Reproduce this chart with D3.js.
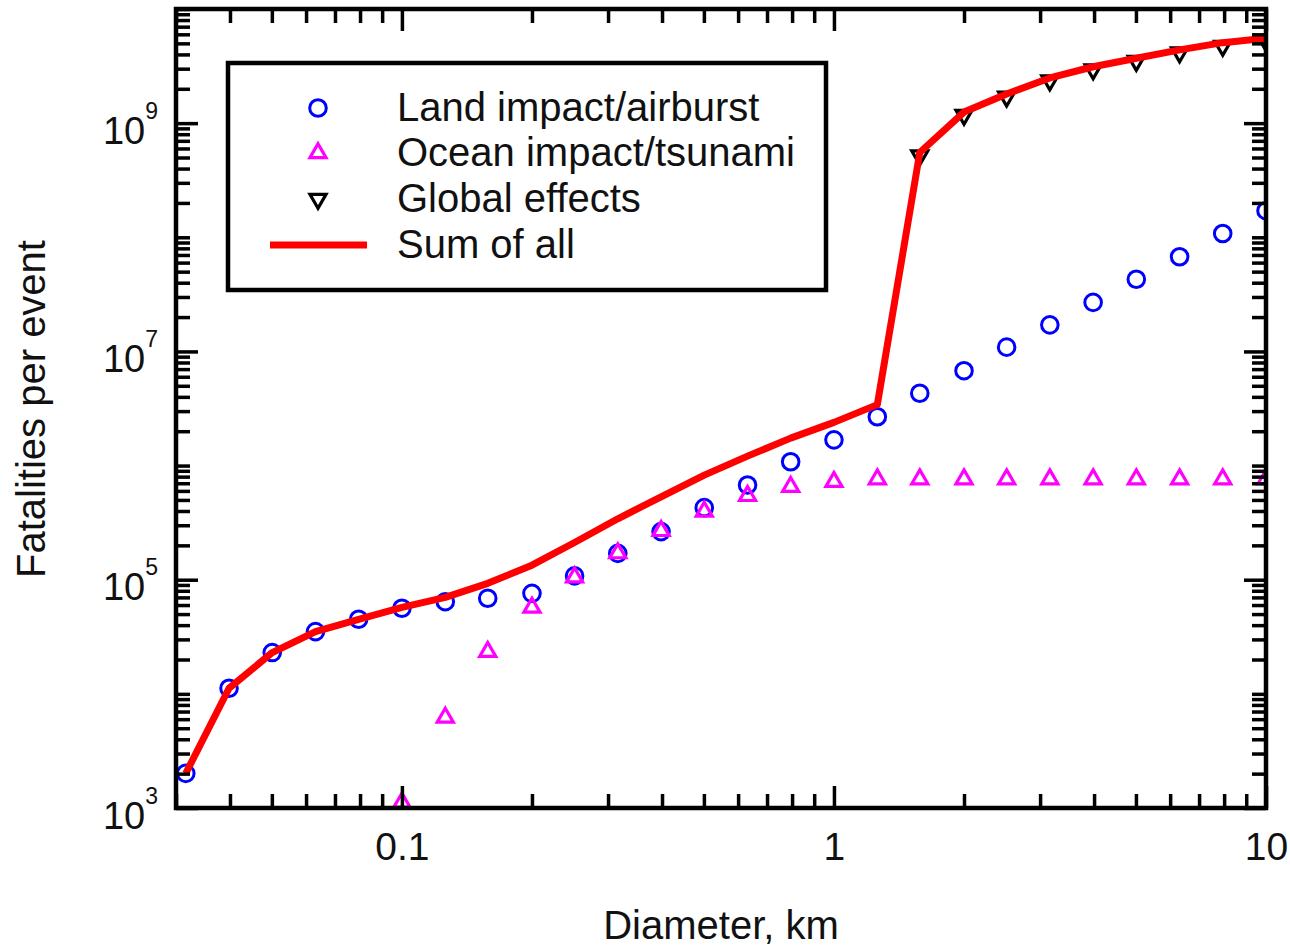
<!DOCTYPE html>
<html>
<head>
<meta charset="utf-8">
<script src="https://cdn.jsdelivr.net/npm/d3@7"></script>
<style>
  html, body { margin: 0; padding: 0; background: #fff; }
  svg { display: block; }
  text { font-family: "Liberation Sans", Arial, sans-serif; fill: #111; }
</style>
</head>
<body>
<svg id="chart" width="1290" height="947"></svg>
<script>
// Impactor diameter (km)
const diameters = [0.0316, 0.0398, 0.0501, 0.0631, 0.0794, 0.1, 0.126, 0.158, 0.2, 0.251,
                   0.316, 0.398, 0.501, 0.631, 0.794, 1, 1.26, 1.58, 2, 2.51,
                   3.16, 3.98, 5.01, 6.31, 7.94, 10];

// Fatalities per event, by effect
const landFatalities = [2.01e3, 1.12e4, 2.30e4, 3.51e4, 4.50e4, 5.62e4, 6.42e4, 6.88e4, 7.60e4, 1.08e5,
                        1.70e5, 2.64e5, 4.28e5, 6.76e5, 1.08e6, 1.68e6, 2.68e6, 4.30e6, 6.78e6, 1.09e7,
                        1.71e7, 2.69e7, 4.29e7, 6.76e7, 1.08e8, 1.71e8];
const oceanFatalities = [null, null, null, null, null, 1.12e3, 6.2e3, 2.34e4, 5.71e4, 1.05e5,
                         1.71e5, 2.68e5, 3.96e5, 5.43e5, 6.52e5, 7.21e5, 7.6e5, 7.6e5, 7.6e5, 7.6e5,
                         7.6e5, 7.6e5, 7.6e5, 7.6e5, 7.6e5, 7.6e5];
const globalFatalities = [null, null, null, null, null, null, null, null, null, null,
                          null, null, null, null, null, null, null, 5.2e8, 1.18e9, 1.70e9,
                          2.36e9, 2.95e9, 3.50e9, 4.15e9, 4.75e9, 5.2e9];
const sumFatalities = [2.01e3, 1.12e4, 2.30e4, 3.51e4, 4.50e4, 5.73e4, 7.0e4, 9.3e4, 1.34e5, 2.12e5,
                       3.42e5, 5.33e5, 8.25e5, 1.21e6, 1.74e6, 2.39e6, 3.42e6, 5.53e8, 1.25e9, 1.80e9,
                       2.49e9, 3.12e9, 3.70e9, 4.38e9, 5.07e9, 5.54e9];

// Axis ticks and labels
const xMajorTicks = [0.1, 1, 10];
const xTickLabels = ["0.1", "1", "10"];
const yMajorTicks = [1e3, 1e5, 1e7, 1e9];
const yTickExponents = ["3", "5", "7", "9"];

const legendEntries = ["Land impact/airburst", "Ocean impact/tsunami", "Global effects", "Sum of all"];

const svg = d3.select("#chart");
const plotLeft = 176, plotRight = 1266, plotTop = 9, plotBottom = 808;

const x = d3.scaleLog().domain([0.03, 10]).range([plotLeft, plotRight]);
const y = d3.scaleLog().domain([1e3, 1e10]).range([plotBottom, plotTop]);

const isMajorX = v => xMajorTicks.some(m => Math.abs(Math.log10(m) - Math.log10(v)) < 1e-6);
const isMajorY = v => yMajorTicks.some(m => Math.abs(Math.log10(m) - Math.log10(v)) < 1e-6);
const xMinor = x.ticks().filter(v => !isMajorX(v));
const yMinor = y.ticks().filter(v => !isMajorY(v));

svg.append("clipPath").attr("id", "plotClip")
  .append("rect").attr("x", plotLeft).attr("y", plotTop)
  .attr("width", plotRight - plotLeft).attr("height", plotBottom - plotTop);

const plot = svg.append("g").attr("clip-path", "url(#plotClip)");

const circleSym = d3.symbol().type(d3.symbolCircle).size(Math.PI * 8.3 * 8.3);
const triSym = d3.symbol().type(d3.symbolTriangle).size(112);

const rows = diameters.map((d, i) => ({
  d, land: landFatalities[i], ocean: oceanFatalities[i], glob: globalFatalities[i], sum: sumFatalities[i]
}));

// Land impact / airburst: open blue circles
plot.append("g").selectAll("path").data(rows.filter(r => r.land != null)).join("path")
  .attr("d", circleSym)
  .attr("transform", r => `translate(${x(r.d)},${y(r.land)})`)
  .attr("fill", "none").attr("stroke", "#0000ff").attr("stroke-width", 3);

// Ocean impact / tsunami: open magenta triangles
plot.append("g").selectAll("path").data(rows.filter(r => r.ocean != null)).join("path")
  .attr("d", triSym)
  .attr("transform", r => `translate(${x(r.d)},${y(r.ocean)})`)
  .attr("fill", "none").attr("stroke", "#ff00ff").attr("stroke-width", 3.2);

// Global effects: open black down-triangles
plot.append("g").selectAll("path").data(rows.filter(r => r.glob != null)).join("path")
  .attr("d", triSym)
  .attr("transform", r => `translate(${x(r.d)},${y(r.glob)}) rotate(180)`)
  .attr("fill", "none").attr("stroke", "#000").attr("stroke-width", 3.2);

// Sum of all effects
const line = d3.line().x(r => x(r.d)).y(r => y(r.sum));
svg.append("path").datum(rows)
  .attr("d", line)
  .attr("fill", "none").attr("stroke", "#ff0000").attr("stroke-width", 7)
  .attr("stroke-linejoin", "round");

// Axes: inward ticks on all four sides
function styleAxis(g) {
  g.select(".domain").remove();
  g.selectAll(".tick line").attr("stroke", "#000").attr("stroke-width", 3.5);
}
const minorLen = 14, majorLen = 22;

svg.append("g").attr("transform", `translate(0,${plotBottom})`)
  .call(d3.axisBottom(x).tickValues(xMinor).tickSize(-minorLen).tickFormat(""))
  .call(styleAxis);
svg.append("g").attr("transform", `translate(0,${plotTop})`)
  .call(d3.axisTop(x).tickValues(xMinor).tickSize(-minorLen).tickFormat(""))
  .call(styleAxis);
svg.append("g").attr("transform", `translate(0,${plotTop})`)
  .call(d3.axisTop(x).tickValues(xMajorTicks).tickSize(-majorLen).tickFormat(""))
  .call(styleAxis);
const xAxisMajor = svg.append("g").attr("transform", `translate(0,${plotBottom})`)
  .call(d3.axisBottom(x).tickValues(xMajorTicks).tickSize(-majorLen)
        .tickFormat((d, i) => xTickLabels[i]))
  .call(styleAxis);
xAxisMajor.selectAll(".tick text")
  .attr("y", 52).attr("dy", null)
  .attr("font-size", 39).attr("font-family", "Liberation Sans, Arial, sans-serif").attr("fill", "#111");

svg.append("g").attr("transform", `translate(${plotLeft},0)`)
  .call(d3.axisLeft(y).tickValues(yMinor).tickSize(-minorLen).tickFormat(""))
  .call(styleAxis);
svg.append("g").attr("transform", `translate(${plotRight},0)`)
  .call(d3.axisRight(y).tickValues(yMinor).tickSize(-minorLen).tickFormat(""))
  .call(styleAxis);
svg.append("g").attr("transform", `translate(${plotRight},0)`)
  .call(d3.axisRight(y).tickValues(yMajorTicks).tickSize(-majorLen).tickFormat(""))
  .call(styleAxis);
const yAxisMajor = svg.append("g").attr("transform", `translate(${plotLeft},0)`)
  .call(d3.axisLeft(y).tickValues(yMajorTicks).tickSize(-majorLen).tickFormat(""))
  .call(styleAxis);
yAxisMajor.selectAll(".tick text").each(function (d, i) {
  const t = d3.select(this);
  t.text(null).attr("x", -18).attr("y", 20).attr("dy", null)
    .attr("text-anchor", "end").attr("font-size", 38)
    .attr("font-family", "Liberation Sans, Arial, sans-serif").attr("fill", "#111");
  t.append("tspan").text("10");
  t.append("tspan").attr("dy", -25).attr("font-size", 23).text(yTickExponents[i]);
});

// Plot frame
svg.append("rect")
  .attr("x", plotLeft).attr("y", plotTop)
  .attr("width", plotRight - plotLeft).attr("height", plotBottom - plotTop)
  .attr("fill", "none").attr("stroke", "#000").attr("stroke-width", 4.5);

// Axis titles
svg.append("text").attr("x", (plotLeft + plotRight) / 2).attr("y", 939)
  .attr("text-anchor", "middle").attr("font-size", 40).text("Diameter, km");
svg.append("text").attr("transform", "translate(45,409) rotate(-90)")
  .attr("text-anchor", "middle").attr("font-size", 40).text("Fatalities per event");

// Legend
const legend = svg.append("g");
legend.append("rect").attr("x", 228).attr("y", 63).attr("width", 598).attr("height", 227)
  .attr("fill", "#fff").attr("stroke", "#000").attr("stroke-width", 4.5);
const rowY = [108, 153, 199, 245];
legend.append("path").attr("d", circleSym).attr("transform", `translate(318,${rowY[0]})`)
  .attr("fill", "none").attr("stroke", "#0000ff").attr("stroke-width", 3);
legend.append("path").attr("d", triSym).attr("transform", `translate(318,${rowY[1]})`)
  .attr("fill", "none").attr("stroke", "#ff00ff").attr("stroke-width", 3.2);
legend.append("path").attr("d", triSym).attr("transform", `translate(318,${rowY[2]}) rotate(180)`)
  .attr("fill", "none").attr("stroke", "#000").attr("stroke-width", 3.2);
legend.append("line").attr("x1", 270).attr("x2", 367).attr("y1", rowY[3]).attr("y2", rowY[3])
  .attr("stroke", "#ff0000").attr("stroke-width", 7);
legend.selectAll("text.entry").data(legendEntries).join("text")
  .attr("class", "entry")
  .attr("x", 397).attr("y", (d, i) => rowY[i] + 13)
  .attr("font-size", 40).text(d => d);
</script>
</body>
</html>
